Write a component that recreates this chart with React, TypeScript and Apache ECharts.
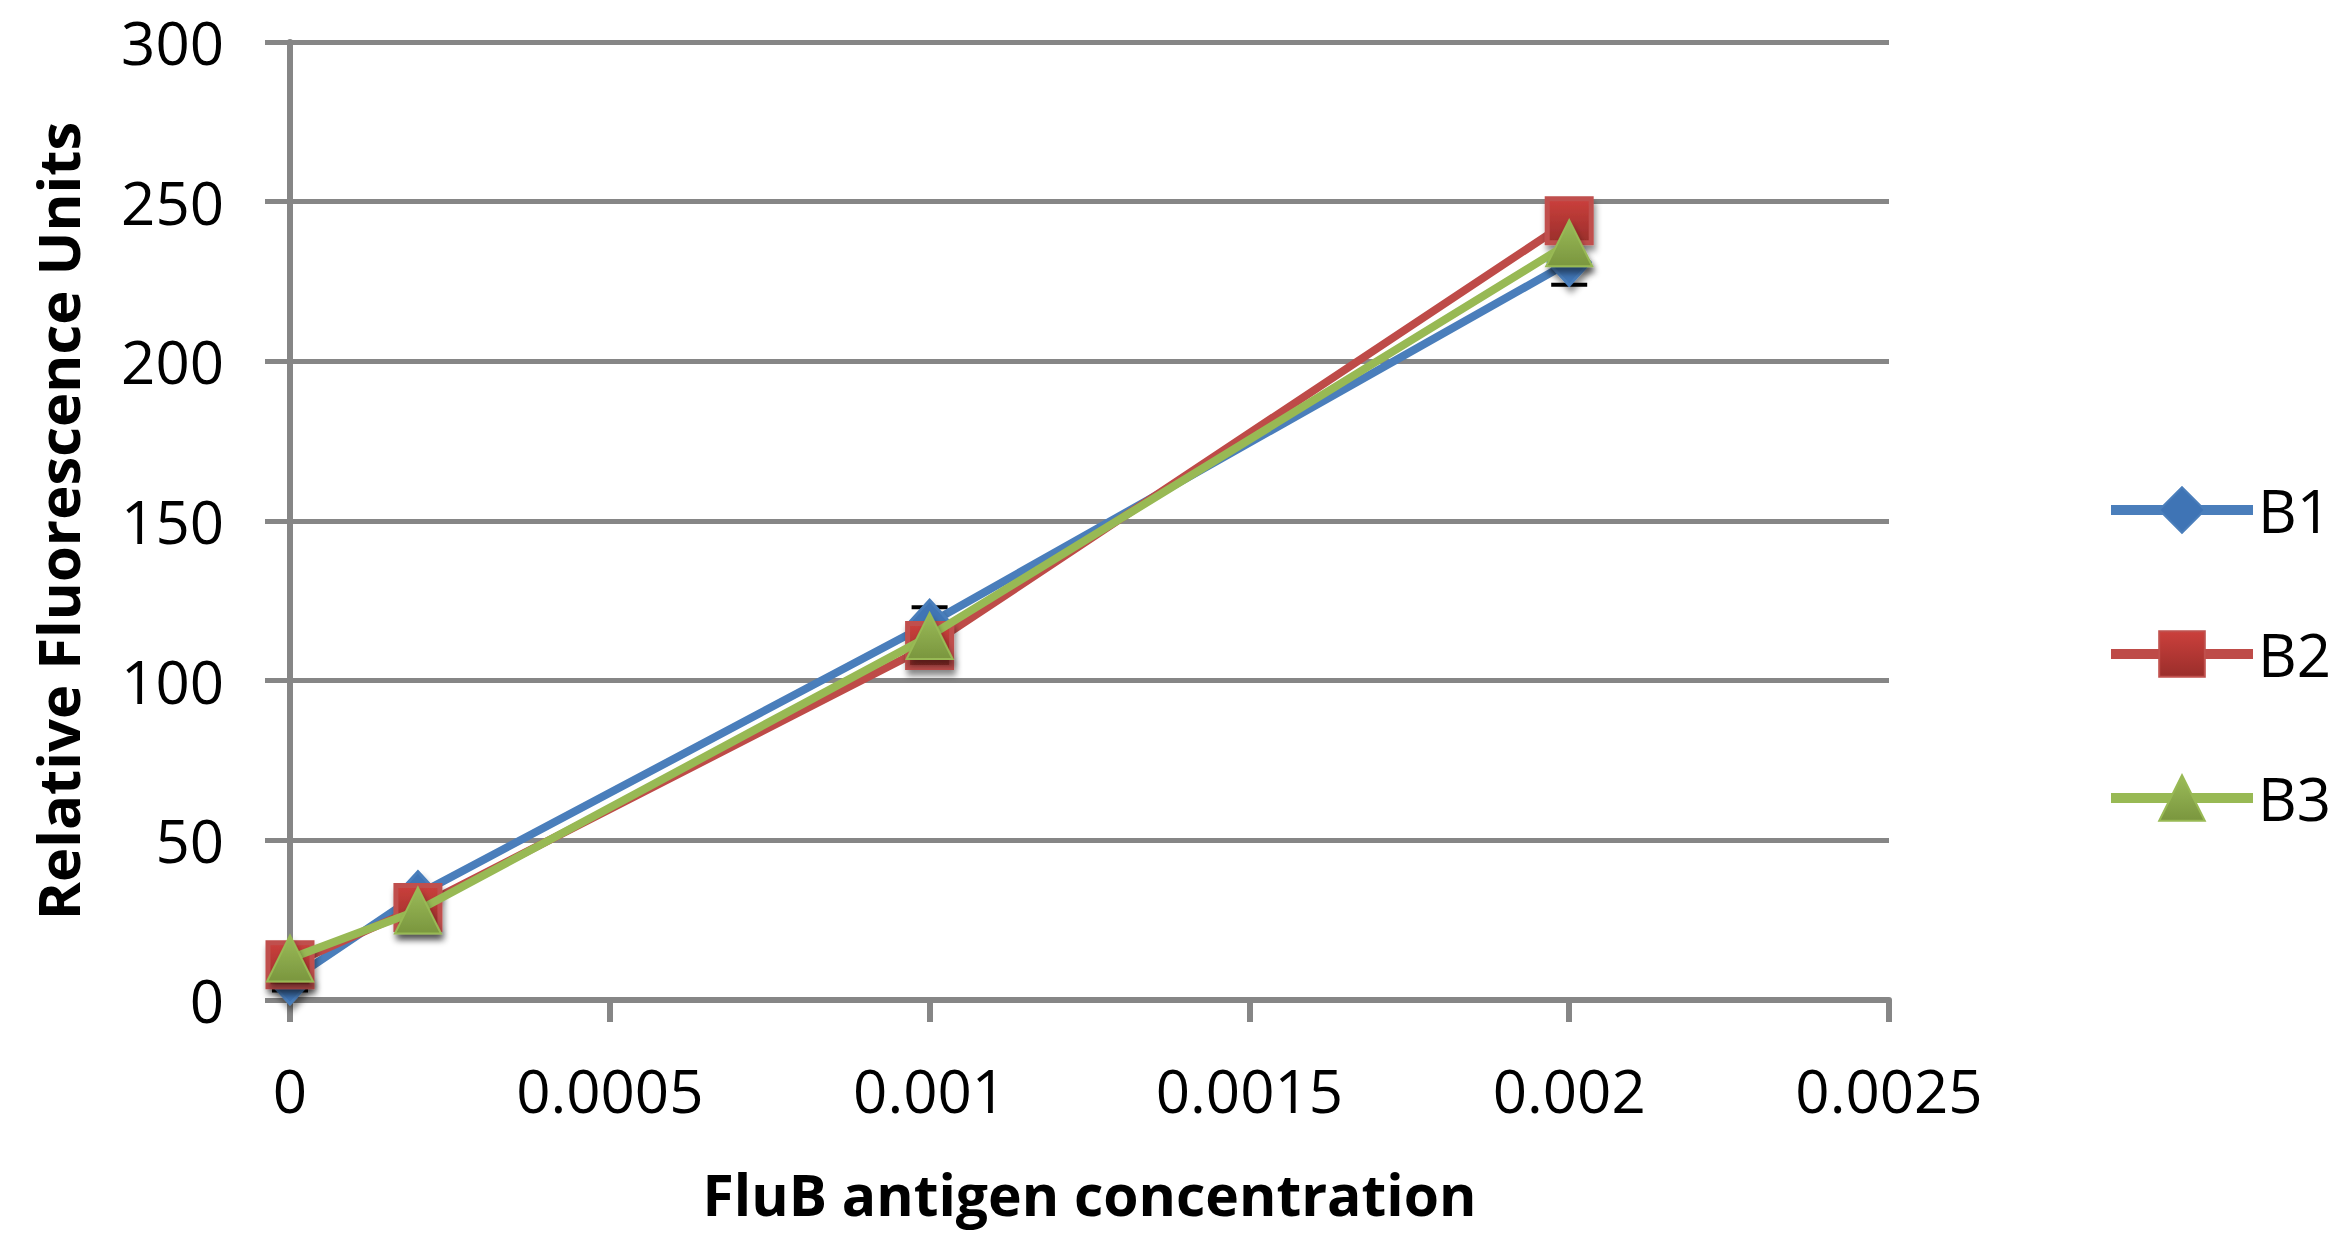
import React, { useEffect, useRef } from "react";
import * as echarts from "echarts";

const concentrations = [0, 0.0002, 0.001, 0.002];
const b1Values = [6, 33, 118, 231];
const b2Values = [11, 29, 111, 244];
const b3Values = [13, 28, 114, 237];
const b1Errors = [3, 3, 5, 7];
const seriesNames = ["B1", "B2", "B3"];
const xTitle = "FluB antigen concentration";
const yTitle = "Relative Fluorescence Units";

const FONT = "'Open Sans', 'DejaVu Sans', sans-serif";
const GRID_COLOR = "#868686";

function pairs(values: number[]) {
  return concentrations.map((c, i) => [c, values[i]]);
}

export default function App() {
  const ref = useRef<HTMLDivElement>(null);
  useEffect(() => {
    if (!ref.current) return;
    const chart = echarts.init(ref.current, undefined, { renderer: "svg" });
    const markerShadow = {
      shadowColor: "rgba(0,0,0,0.45)",
      shadowBlur: 6,
      shadowOffsetX: 2,
      shadowOffsetY: 6,
    };
    const errData = concentrations.map((c, i) => [c, b1Values[i] - b1Errors[i], b1Values[i] + b1Errors[i]]);
    chart.setOption({
      animation: false,
      backgroundColor: "#ffffff",
      grid: { left: 290, top: 42, width: 1599, height: 958 },
      legend: {
        data: seriesNames,
        orient: "vertical",
        left: 2101,
        top: 475,
        itemWidth: 142,
        itemHeight: 57,
        itemGap: 84,
        textStyle: { fontFamily: FONT, fontSize: 60, color: "#000" },
        lineStyle: { width: 10 },
        itemStyle: { shadowBlur: 0, shadowOffsetX: 0, shadowOffsetY: 0, shadowColor: "transparent" },
      },
      xAxis: {
        type: "value",
        min: 0,
        max: 0.0025,
        interval: 0.0005,
        name: xTitle,
        nameLocation: "middle",
        nameGap: 194,
        nameTextStyle: { fontFamily: FONT, fontSize: 57, fontWeight: "bold", color: "#000", verticalAlign: "middle" },
        axisLine: { show: true, lineStyle: { color: GRID_COLOR, width: 6 } },
        axisTick: { show: true, length: 22, lineStyle: { color: GRID_COLOR, width: 6 } },
        splitLine: { show: false },
        axisLabel: {
          margin: 60,
          fontFamily: FONT,
          fontSize: 60,
          color: "#000",
          formatter: (v: number) => (v === 0 ? "0" : String(Number(v.toFixed(4)))),
        },
      },
      yAxis: {
        type: "value",
        min: 0,
        max: 300,
        interval: 50,
        name: yTitle,
        nameLocation: "middle",
        nameGap: 233,
        nameTextStyle: { fontFamily: FONT, fontSize: 58, fontWeight: "bold", color: "#000", verticalAlign: "middle" },
        axisLine: { show: true, lineStyle: { color: GRID_COLOR, width: 6 } },
        axisTick: { show: true, length: 25, lineStyle: { color: GRID_COLOR, width: 5 } },
        splitLine: { show: true, lineStyle: { color: GRID_COLOR, width: 5 } },
        axisLabel: { margin: 66, fontFamily: FONT, fontSize: 60, color: "#000" },
      },
      series: [
        {
          type: "custom",
          name: "B1 error",
          z: 1,
          data: errData,
          encode: { x: 0, y: [1, 2] },
          renderItem: (params: any, api: any) => {
            const x = api.value(0);
            const pLo = api.coord([x, api.value(1)]);
            const pHi = api.coord([x, api.value(2)]);
            const hw = 18;
            const style = { stroke: "#000", lineWidth: 4 };
            return {
              type: "group",
              children: [
                { type: "line", shape: { x1: pLo[0], y1: pLo[1], x2: pHi[0], y2: pHi[1] }, style },
                { type: "line", shape: { x1: pLo[0] - hw, y1: pLo[1], x2: pLo[0] + hw, y2: pLo[1] }, style },
                { type: "line", shape: { x1: pHi[0] - hw, y1: pHi[1], x2: pHi[0] + hw, y2: pHi[1] }, style },
              ],
            };
          },
        },
        {
          type: "line",
          name: seriesNames[0],
          z: 2,
          data: pairs(b1Values),
          symbol: "diamond",
          symbolSize: [42, 46],
          lineStyle: { color: "#4A7EBB", width: 8 },
          itemStyle: { color: "#3F74B5", borderColor: "#4A7EBB", borderWidth: 3, ...markerShadow },
        },
        {
          type: "line",
          name: seriesNames[1],
          z: 3,
          data: pairs(b2Values),
          symbol: "rect",
          symbolSize: 44,
          lineStyle: { color: "#BE4B48", width: 8 },
          itemStyle: {
            color: new echarts.graphic.LinearGradient(0, 0, 0, 1, [
              { offset: 0, color: "#CB403C" },
              { offset: 1, color: "#9A2E2B" },
            ]),
            borderColor: "#C0504D",
            borderWidth: 5,
            ...markerShadow,
          },
        },
        {
          type: "line",
          name: seriesNames[2],
          z: 4,
          data: pairs(b3Values),
          symbol: "triangle",
          symbolSize: [46, 46],
          lineStyle: { color: "#98B954", width: 8 },
          itemStyle: {
            color: new echarts.graphic.LinearGradient(0, 0, 0, 1, [
              { offset: 0, color: "#9BBB59" },
              { offset: 1, color: "#7A963E" },
            ]),
            borderColor: "#98B954",
            borderWidth: 2,
            ...markerShadow,
          },
        },
      ],
    });
    return () => chart.dispose();
  }, []);
  return (
    <div
      ref={ref}
      style={{ position: "absolute", left: 0, top: 0, width: 2341, height: 1238, background: "#fff" }}
    />
  );
}
